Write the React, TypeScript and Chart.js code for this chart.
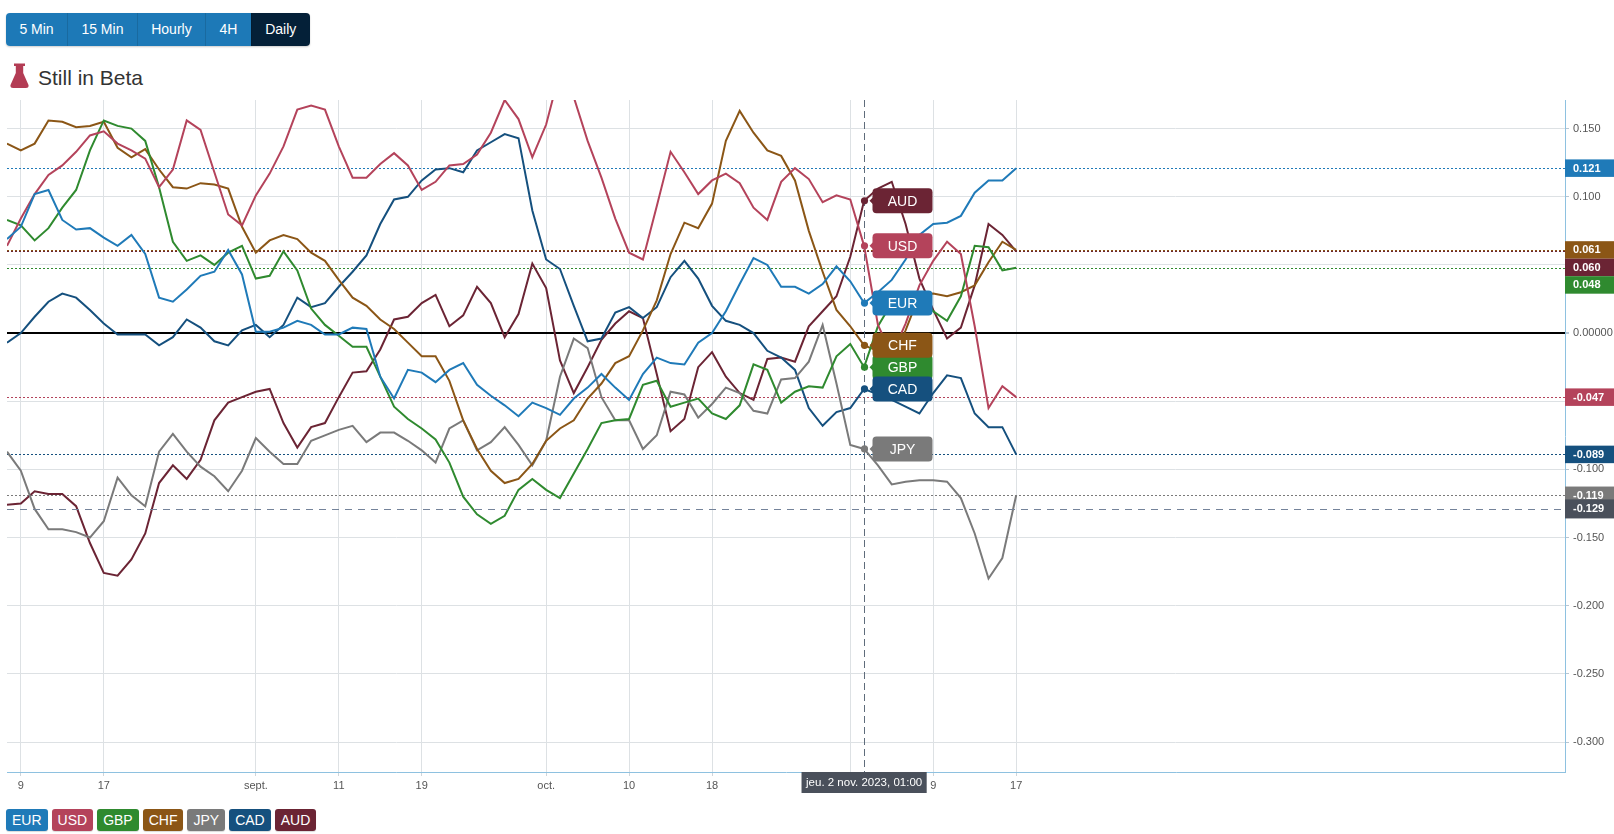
import { useEffect, useRef } from "react";
import { Chart, registerables } from "chart.js";

Chart.register(...registerables);

// trading days, one point per day (weekends are skipped)
const dates = [
  "2023-08-08", "2023-08-09", "2023-08-10", "2023-08-11", "2023-08-14", "2023-08-15", "2023-08-16", "2023-08-17", "2023-08-18", "2023-08-21",
  "2023-08-22", "2023-08-23", "2023-08-24", "2023-08-25", "2023-08-28", "2023-08-29", "2023-08-30", "2023-08-31", "2023-09-01", "2023-09-04",
  "2023-09-05", "2023-09-06", "2023-09-07", "2023-09-08", "2023-09-11", "2023-09-12", "2023-09-13", "2023-09-14", "2023-09-15", "2023-09-18",
  "2023-09-19", "2023-09-20", "2023-09-21", "2023-09-22", "2023-09-25", "2023-09-26", "2023-09-27", "2023-09-28", "2023-09-29", "2023-10-02",
  "2023-10-03", "2023-10-04", "2023-10-05", "2023-10-06", "2023-10-09", "2023-10-10", "2023-10-11", "2023-10-12", "2023-10-13", "2023-10-16",
  "2023-10-17", "2023-10-18", "2023-10-19", "2023-10-20", "2023-10-23", "2023-10-24", "2023-10-25", "2023-10-26", "2023-10-27", "2023-10-30",
  "2023-10-31", "2023-11-01", "2023-11-02", "2023-11-03", "2023-11-06", "2023-11-07", "2023-11-08", "2023-11-09", "2023-11-10", "2023-11-13",
  "2023-11-14", "2023-11-15", "2023-11-16", "2023-11-17",
];

const xTickDates = ["2023-08-09", "2023-08-17", "2023-09-01", "2023-09-11", "2023-09-19", "2023-10-02", "2023-10-10", "2023-10-18", "2023-11-01", "2023-11-09", "2023-11-17"];
const xTickLabels = ["9", "17", "sept.", "11", "19", "oct.", "10", "18", "nov.", "9", "17"];
const yTicks = [-0.3, -0.25, -0.2, -0.15, -0.1, -0.05, 0, 0.05, 0.1, 0.15];

const eur = [
  0.069, 0.078, 0.102, 0.105, 0.083, 0.076, 0.077, 0.070, 0.064, 0.072,
  0.058, 0.026, 0.023, 0.032, 0.042, 0.045, 0.061, 0.043, 0.001, 0.001,
  0.004, 0.009, 0.006, -0.001, -0.001, 0.004, 0.003, -0.032, -0.048, -0.027,
  -0.029, -0.036, -0.027, -0.022, -0.038, -0.046, -0.053, -0.061, -0.051, -0.055,
  -0.060, -0.048, -0.040, -0.030, -0.040, -0.049, -0.030, -0.018, -0.022, -0.023,
  -0.007, 0.000, 0.016, 0.036, 0.055, 0.050, 0.034, 0.034, 0.029, 0.036,
  0.049, 0.038, 0.022, 0.030, 0.039, 0.054, 0.072, 0.080, 0.081, 0.086,
  0.103, 0.112, 0.112, 0.121,
];
const usd = [
  0.064, 0.084, 0.102, 0.116, 0.123, 0.133, 0.145, 0.148, 0.139, 0.134,
  0.128, 0.107, 0.120, 0.156, 0.149, 0.118, 0.087, 0.079, 0.101, 0.117,
  0.137, 0.164, 0.167, 0.164, 0.137, 0.114, 0.114, 0.124, 0.132, 0.123,
  0.105, 0.111, 0.123, 0.124, 0.131, 0.147, 0.171, 0.157, 0.129, 0.153,
  0.192, 0.173, 0.141, 0.114, 0.084, 0.059, 0.054, 0.093, 0.133, 0.118,
  0.102, 0.112, 0.117, 0.110, 0.092, 0.083, 0.111, 0.121, 0.113, 0.096,
  0.101, 0.098, 0.064, 0.006, -0.016, 0.007, 0.035, 0.053, 0.067, 0.058,
  0.005, -0.055, -0.039, -0.047,
];
const gbp = [
  0.083, 0.079, 0.068, 0.077, 0.092, 0.105, 0.134, 0.156, 0.152, 0.150,
  0.141, 0.107, 0.067, 0.053, 0.057, 0.050, 0.059, 0.064, 0.040, 0.042,
  0.060, 0.046, 0.018, 0.006, -0.002, -0.010, -0.010, -0.032, -0.054, -0.063,
  -0.070, -0.078, -0.095, -0.120, -0.133, -0.140, -0.134, -0.115, -0.107, -0.115,
  -0.121, -0.103, -0.085, -0.066, -0.064, -0.063, -0.038, -0.035, -0.054, -0.051,
  -0.048, -0.059, -0.063, -0.053, -0.023, -0.027, -0.051, -0.043, -0.039, -0.040,
  -0.017, -0.008, -0.025, 0.005, 0.022, 0.026, 0.029, 0.016, 0.009, 0.027,
  0.064, 0.063, 0.046, 0.048,
];
const chf = [
  0.139, 0.134, 0.139, 0.156, 0.155, 0.151, 0.152, 0.155, 0.136, 0.129,
  0.135, 0.120, 0.107, 0.106, 0.110, 0.109, 0.106, 0.078, 0.059, 0.068,
  0.072, 0.069, 0.059, 0.053, 0.039, 0.026, 0.020, 0.010, 0.003, -0.007,
  -0.017, -0.017, -0.035, -0.064, -0.085, -0.101, -0.110, -0.107, -0.096, -0.079,
  -0.070, -0.064, -0.048, -0.037, -0.022, -0.017, 0.002, 0.024, 0.058, 0.081,
  0.077, 0.095, 0.141, 0.163, 0.147, 0.134, 0.130, 0.112, 0.075, 0.045,
  0.017, 0.005, -0.009, -0.013, -0.020, 0.002, 0.028, 0.029, 0.027, 0.030,
  0.035, 0.052, 0.067, 0.061,
];
const jpy = [
  -0.087, -0.101, -0.129, -0.144, -0.144, -0.146, -0.150, -0.138, -0.106, -0.119,
  -0.127, -0.087, -0.074, -0.087, -0.098, -0.105, -0.116, -0.101, -0.077, -0.087,
  -0.096, -0.096, -0.079, -0.075, -0.071, -0.068, -0.080, -0.073, -0.073, -0.079,
  -0.086, -0.095, -0.070, -0.064, -0.086, -0.080, -0.069, -0.082, -0.097, -0.079,
  -0.032, -0.004, -0.011, -0.047, -0.064, -0.064, -0.085, -0.075, -0.043, -0.045,
  -0.062, -0.052, -0.040, -0.044, -0.057, -0.059, -0.034, -0.033, -0.021, 0.006,
  -0.037, -0.082, -0.085, -0.097, -0.111, -0.109, -0.108, -0.108, -0.109, -0.121,
  -0.147, -0.180, -0.165, -0.119,
];
const cad = [
  -0.007, 0.000, 0.012, 0.023, 0.029, 0.026, 0.017, 0.007, -0.001, -0.001,
  -0.001, -0.009, -0.003, 0.010, 0.004, -0.006, -0.009, 0.002, 0.006, -0.003,
  0.006, 0.026, 0.019, 0.022, 0.034, 0.045, 0.057, 0.080, 0.098, 0.100,
  0.112, 0.120, 0.121, 0.118, 0.134, 0.140, 0.146, 0.143, 0.090, 0.054,
  0.047, 0.020, -0.006, -0.004, 0.015, 0.019, 0.011, 0.019, 0.041, 0.053,
  0.040, 0.020, 0.009, 0.006, 0.000, -0.013, -0.018, -0.027, -0.055, -0.068,
  -0.058, -0.055, -0.041, -0.045, -0.049, -0.054, -0.059, -0.044, -0.031, -0.033,
  -0.059, -0.069, -0.069, -0.089,
];
const aud = [
  -0.126, -0.125, -0.116, -0.118, -0.118, -0.127, -0.154, -0.176, -0.178, -0.166,
  -0.147, -0.110, -0.097, -0.107, -0.093, -0.064, -0.051, -0.047, -0.043, -0.041,
  -0.066, -0.084, -0.069, -0.066, -0.047, -0.029, -0.028, -0.012, 0.010, 0.012,
  0.022, 0.028, 0.005, 0.013, 0.034, 0.022, -0.003, 0.014, 0.051, 0.033,
  -0.020, -0.044, -0.025, -0.005, 0.007, 0.016, 0.011, -0.030, -0.072, -0.063,
  -0.025, -0.014, -0.032, -0.044, -0.049, -0.019, -0.018, -0.021, 0.005, 0.016,
  0.027, 0.056, 0.097, 0.106, 0.111, 0.080, 0.040, 0.017, -0.004, 0.004,
  0.035, 0.080, 0.072, 0.060,
];

const currencies = ["EUR", "USD", "GBP", "CHF", "JPY", "CAD", "AUD"];
const colors = ["#1f7ab8", "#b4435b", "#2f8a2f", "#8b5616", "#7a7a7a", "#15507e", "#6b2434"];
const values = [eur, usd, gbp, chf, jpy, cad, aud];

// hover state in the screenshot
const cursorDate = "2023-11-02";
const cursorValue = -0.129;
const cursorLabel = "jeu. 2 nov. 2023, 01:00";

const FONT = '"Liberation Sans", Arial, sans-serif';
const CROSS = "#5f6c7b";

const overlay = {
  id: "overlay",
  beforeDatasetsDraw(chart: any) {
    const { ctx, chartArea: a } = chart;
    const y = chart.scales.y;
    ctx.save();
    ctx.lineWidth = 1;
    ctx.setLineDash([2, 2]);
    values.forEach((vals, i) => {
      const py = Math.round(y.getPixelForValue(vals[vals.length - 1])) + 0.5;
      ctx.strokeStyle = colors[i];
      ctx.beginPath();
      ctx.moveTo(a.left, py);
      ctx.lineTo(a.right, py);
      ctx.stroke();
    });
    ctx.restore();
  },
  afterDatasetsDraw(chart: any) {
    const { ctx, chartArea: a } = chart;
    const { x, y } = chart.scales;
    const idx = dates.indexOf(cursorDate);
    const px = Math.round(x.getPixelForValue(idx)) + 0.5;
    const cy = Math.round(y.getPixelForValue(cursorValue)) + 0.5;
    ctx.save();
    ctx.strokeStyle = CROSS;
    ctx.lineWidth = 1;
    ctx.setLineDash([7, 4]);
    ctx.beginPath();
    ctx.moveTo(px, a.top);
    ctx.lineTo(px, a.bottom);
    ctx.stroke();
    ctx.setLineDash([7, 6]);
    ctx.strokeStyle = "#74839a";
    ctx.beginPath();
    ctx.moveTo(a.left, cy);
    ctx.lineTo(a.right, cy);
    ctx.stroke();
    ctx.setLineDash([]);

    // point + tag for each currency at the hovered day
    values.forEach((vals, i) => {
      const py = y.getPixelForValue(vals[idx]);
      ctx.fillStyle = colors[i];
      ctx.beginPath();
      ctx.arc(px, py, 3.6, 0, Math.PI * 2);
      ctx.fill();
      ctx.beginPath();
      ctx.moveTo(px + 5, py);
      ctx.lineTo(px + 10, py - 5);
      ctx.lineTo(px + 10, py + 5);
      ctx.closePath();
      ctx.fill();
      ctx.beginPath();
      ctx.roundRect(px + 8, py - 12.5, 60, 25, 4);
      ctx.fill();
      ctx.fillStyle = "#ffffff";
      ctx.font = `14px ${FONT}`;
      ctx.textAlign = "center";
      ctx.textBaseline = "middle";
      ctx.fillText(currencies[i], px + 38, py + 1);
    });
    ctx.restore();
  },
  afterDraw(chart: any) {
    const { ctx, chartArea: a } = chart;
    const { x, y } = chart.scales;
    const H = 17.5;
    const W = chart.width - a.right;
    ctx.save();
    ctx.font = `bold 11px ${FONT}`;
    ctx.textBaseline = "middle";
    ctx.textAlign = "left";

    // last-value boxes on the right axis, pushed down when they collide
    const items = values
      .map((vals, i) => {
        const v = vals[vals.length - 1];
        return { v, color: colors[i], py: y.getPixelForValue(v) };
      })
      .sort((p, q) => p.py - q.py);
    let prevBottom = -Infinity;
    items.forEach((it) => {
      const top = Math.max(it.py - H / 2, prevBottom);
      prevBottom = top + H;
      ctx.fillStyle = it.color;
      ctx.fillRect(a.right, top, W, H);
      ctx.fillStyle = "#ffffff";
      ctx.fillText(it.v.toFixed(3), a.right + 8, top + H / 2 + 0.5);
    });

    const cy = y.getPixelForValue(cursorValue);
    ctx.fillStyle = "#4a505b";
    ctx.fillRect(a.right, cy - 9.5, W, 19);
    ctx.fillStyle = "#ffffff";
    ctx.fillText(cursorValue.toFixed(3), a.right + 8, cy + 0.5);

    // date box under the vertical crosshair
    const px = x.getPixelForValue(dates.indexOf(cursorDate));
    ctx.font = `11.5px ${FONT}`;
    const tw = ctx.measureText(cursorLabel).width + 9;
    ctx.fillStyle = "#4a505b";
    ctx.fillRect(px - tw / 2, a.bottom, tw, 21);
    ctx.fillStyle = "#ffffff";
    ctx.textAlign = "center";
    ctx.fillText(cursorLabel, px, a.bottom + 11);
    ctx.restore();
  },
};

function CurrencyStrengthChart() {
  const canvasRef = useRef<HTMLCanvasElement>(null);
  const chartRef = useRef<Chart | null>(null);

  useEffect(() => {
    if (!canvasRef.current) return;
    const ctx = canvasRef.current.getContext("2d");
    if (!ctx) return;

    if (chartRef.current) {
      chartRef.current.destroy();
      chartRef.current = null;
    }

    const tickIdx = xTickDates.map((d) => dates.indexOf(d));

    chartRef.current = new Chart(ctx, {
      type: "line",
      data: {
        datasets: values.map((vals, i) => ({
          label: currencies[i],
          data: vals.map((v, j) => ({ x: j, y: v })),
          borderColor: colors[i],
          backgroundColor: colors[i],
          borderWidth: 2,
          pointRadius: 0,
          tension: 0,
          fill: false,
        })),
      },
      options: {
        animation: false,
        responsive: true,
        maintainAspectRatio: false,
        events: [],
        layout: { padding: { left: 7, top: 10, right: 0, bottom: 0 } },
        plugins: {
          legend: { display: false },
          tooltip: { enabled: false },
        },
        scales: {
          x: {
            type: "linear",
            min: 0,
            max: 112.7,
            afterBuildTicks: (axis: any) => {
              axis.ticks = tickIdx.map((v) => ({ value: v }));
            },
            afterFit: (axis: any) => {
              axis.height = 33;
              axis.paddingLeft = 0;
              axis.paddingRight = 0;
            },
            ticks: {
              autoSkip: false,
              maxRotation: 0,
              padding: 3,
              color: "#555",
              font: { family: FONT, size: 11 },
              callback: (_v: any, i: number) => xTickLabels[i],
            },
            grid: { color: "#dde1e4", tickLength: 4, tickColor: "#cfd5da" },
            border: { color: "#8ec1e0" },
          },
          y: {
            position: "right",
            min: -0.322,
            max: 0.171,
            afterBuildTicks: (axis: any) => {
              axis.ticks = yTicks.map((v) => ({ value: v }));
            },
            afterFit: (axis: any) => {
              axis.width = 49;
              axis.paddingTop = 0;
              axis.paddingBottom = 0;
            },
            ticks: {
              padding: 4,
              color: "#555",
              font: { family: FONT, size: 11 },
              callback: (v: any) => (v === 0 ? "0.00000" : Number(v).toFixed(3)),
            },
            grid: {
              color: (c: any) => (c.tick && c.tick.value === 0 ? "#000000" : "#dde1e4"),
              lineWidth: (c: any) => (c.tick && c.tick.value === 0 ? 2 : 1),
              tickLength: 4,
              tickColor: "#b9c6d2",
            },
            border: { color: "#8ec1e0" },
          },
        },
      },
      plugins: [overlay],
    });

    return () => {
      if (chartRef.current) {
        chartRef.current.destroy();
        chartRef.current = null;
      }
    };
  }, []);

  return (
    <div style={{ position: "absolute", left: 0, top: 90, width: 1614, height: 715 }}>
      <canvas ref={canvasRef}></canvas>
    </div>
  );
}

const periods = ["5 Min", "15 Min", "Hourly", "4H", "Daily"];

export default function App() {
  return (
    <div style={{ position: "relative", width: 1614, height: 834, overflow: "hidden", fontFamily: FONT, background: "#fff" }}>
      <style>{"body{margin:0}"}</style>
      <div
        style={{
          position: "absolute",
          left: 6,
          top: 13,
          display: "flex",
          borderRadius: 4,
          overflow: "hidden",
          boxShadow: "0 1px 2px rgba(0,0,0,0.2)",
        }}
      >
        {periods.map((p, i) => (
          <div
            key={p}
            style={{
              height: 33,
              lineHeight: "33px",
              padding: "0 13.4px",
              fontSize: 14,
              color: "#fff",
              background: p === "Daily" ? "#042038" : "#1d79b7",
              borderLeft: i === 0 ? "none" : "1px solid rgba(0,0,0,0.12)",
            }}
          >
            {p}
          </div>
        ))}
      </div>

      <svg style={{ position: "absolute", left: 10, top: 63 }} width="19" height="26" viewBox="0 0 19 25">
        <path
          d="M4 0 H15 V2.6 H13.2 V9.5 L18.4 21.2 Q19.4 24.6 16 24.6 H3 Q-0.4 24.6 0.6 21.2 L5.8 9.5 V2.6 H4 Z"
          fill="#b33c54"
        />
      </svg>
      <div style={{ position: "absolute", left: 38, top: 67, fontSize: 21, lineHeight: "21px", color: "#333" }}>
        Still in Beta
      </div>

      <CurrencyStrengthChart />

      <div style={{ position: "absolute", left: 6, top: 809, display: "flex", gap: 4 }}>
        {currencies.map((c, i) => (
          <div
            key={c}
            style={{
              height: 22,
              lineHeight: "22px",
              padding: "0 6px",
              fontSize: 14,
              color: "#fff",
              background: colors[i],
              borderRadius: 3,
              boxShadow: "0 1px 1px rgba(0,0,0,0.15)",
            }}
          >
            {c}
          </div>
        ))}
      </div>
    </div>
  );
}
